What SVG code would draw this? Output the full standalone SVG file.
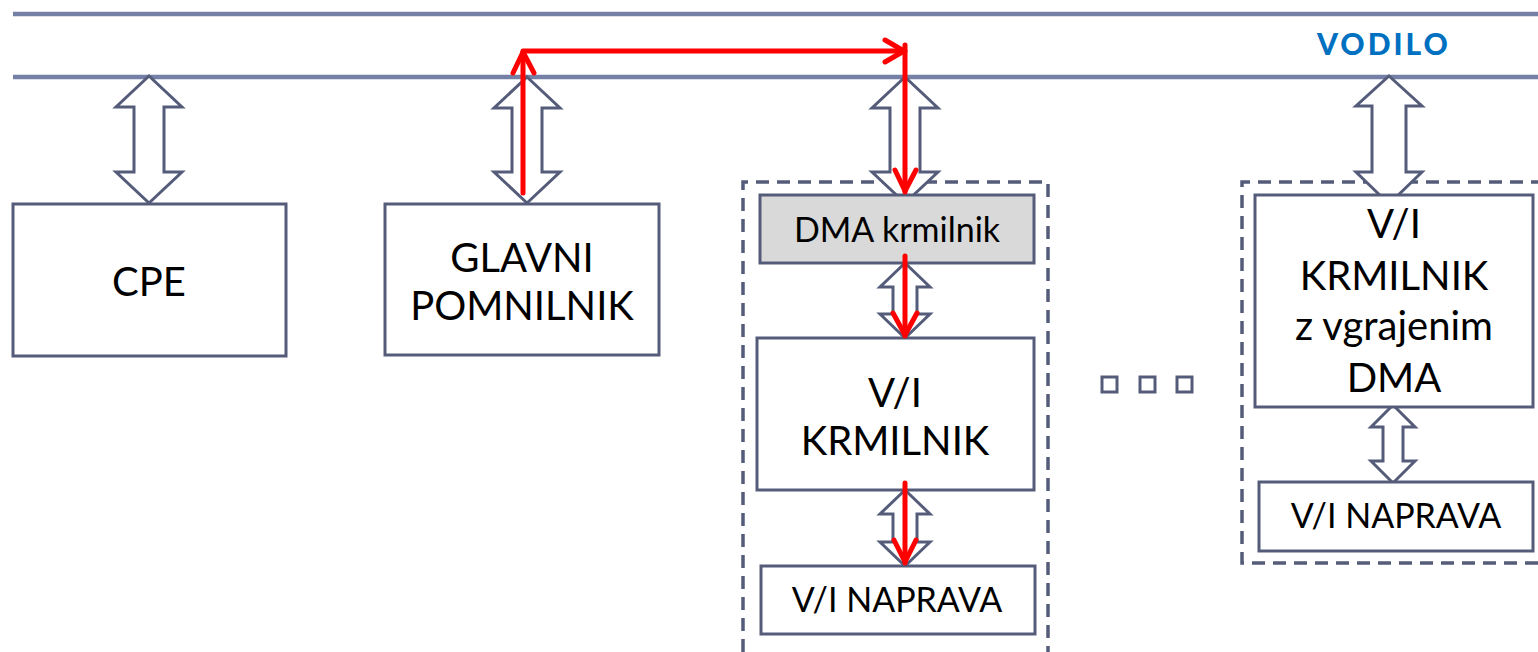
<svg xmlns="http://www.w3.org/2000/svg" width="1538" height="652" viewBox="0 0 1538 652">
<style>
.bus{stroke:#7480a5;stroke-width:4.5;fill:none}
.box{fill:#fff;stroke:#545c7a;stroke-width:3}
.gray{fill:#d9d9d9;stroke:#545c7a;stroke-width:3}
.arr{fill:#fff;stroke:#545c7a;stroke-width:3;stroke-linejoin:miter}
.dash{fill:none;stroke:#545c7a;stroke-width:3.5;stroke-dasharray:13 8}
.red{fill:none;stroke:#ff0000;stroke-width:5;stroke-linecap:round;stroke-linejoin:round}
.t{font-family:Lato,"Open Sans",sans-serif;fill:#000;text-anchor:middle}
.big{font-size:40px}
.mid{font-size:34px}
</style>
<rect width="1538" height="652" fill="#fff"/>
<g id="bus">
<line class="bus" x1="13" y1="14" x2="1538" y2="14"/>
<line class="bus" x1="13" y1="77" x2="1538" y2="77"/>
<text x="1384" y="55" font-family="Lato,'Open Sans',sans-serif" font-weight="900" font-size="30" letter-spacing="3" fill="#0070c0" text-anchor="middle">VODILO</text>
</g>
<g id="dma-group-frame"><path class="dash" d="M743,652 V182 H1048 V652"/></g>
<g id="dma-io-frame"><path class="dash" d="M1538,563 H1242 V182 H1538"/></g>
<g id="connectors">
<polygon class="arr" points="149,76 182,107 164,107 164,172 182,172 149,203 116,172 134,172 134,107 116,107"/>
<polygon class="arr" points="527,77 560,108 542,108 542,172 560,172 527,203 494,172 512,172 512,108 494,108"/>
<polygon class="arr" points="905,77 938,108 920,108 920,172 938,172 905,203 872,172 890,172 890,108 872,108"/>
<polygon class="arr" points="1389,76 1422,106 1406,106 1406,172 1422,172 1389,204 1356,172 1372,172 1372,106 1356,106"/>
<polygon class="arr" points="905,263 930,287 917,287 917,314 930,314 905,338 880,314 893,314 893,287 880,287"/>
<polygon class="arr" points="905,490 930,514 917,514 917,542 930,542 905,566 880,542 893,542 893,514 880,514"/>
<polygon class="arr" points="1393,405 1415,427 1403,427 1403,461 1415,461 1393,483 1371,461 1383,461 1383,427 1371,427"/>
</g>
<g id="cpe"><rect class="box" x="13" y="204" width="273" height="152"/><text class="t big" x="149" y="296">CPE</text></g>
<g id="glavni"><rect class="box" x="385" y="204" width="274" height="151"/><text class="t big" x="522" y="272">GLAVNI</text><text class="t big" x="522" y="320">POMNILNIK</text></g>
<g id="dma"><rect class="gray" x="760" y="195" width="274" height="68"/><text class="t mid" x="897" y="242">DMA krmilnik</text></g>
<g id="vi-krmilnik"><rect class="box" x="757" y="338" width="277" height="152"/><text class="t big" x="895" y="407">V/I</text><text class="t big" x="895" y="455">KRMILNIK</text></g>
<g id="vi-naprava-1"><rect class="box" x="761" y="566" width="274" height="68"/><text class="t mid" x="897" y="612">V/I NAPRAVA</text></g>
<g id="vi-krmilnik-dma"><rect class="box" x="1255" y="195" width="278" height="212"/><text class="t big" x="1394" y="238">V/I</text><text class="t big" x="1394" y="290">KRMILNIK</text><text class="t big" x="1394" y="340">z vgrajenim</text><text class="t big" x="1394" y="392">DMA</text></g>
<g id="vi-naprava-2"><rect class="box" x="1259" y="482" width="274" height="69"/><text class="t mid" x="1396" y="528">V/I NAPRAVA</text></g>
<g id="ellipsis">
<rect class="box" x="1102" y="377" width="15" height="15"/>
<rect class="box" x="1140" y="377" width="15" height="15"/>
<rect class="box" x="1177" y="377" width="15" height="15"/>
</g>
<g id="dma-path">
<path class="red" d="M523,193 V51 H905"/>
<path class="red" d="M905,45 V192"/>
<path class="red" d="M513,73 L523,52 L534,73"/>
<path class="red" d="M885,40 L904,51 L885,62"/>
<path class="red" d="M895,170 L905,191 L916,170"/>
<path class="red" d="M905,256 V336"/>
<path class="red" d="M893,313 L905,335 L917,313"/>
<path class="red" d="M905,483 V563"/>
<path class="red" d="M894,540 L905,562 L916,540"/>
</g>
</svg>
